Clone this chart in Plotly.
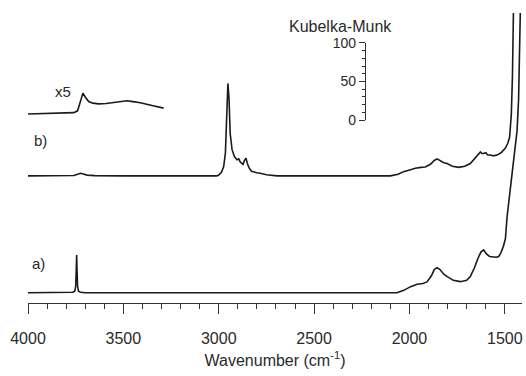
import plotly.graph_objects as go

# ---- data (wavenumber cm-1, Kubelka-Munk units) ----
a_wn = [4000, 3900, 3800, 3765, 3755, 3750, 3747, 3745, 3743, 3740, 3735, 3725, 3700, 3500, 3000, 2500, 2100,
        2065, 2030, 1994, 1960, 1930, 1908, 1885, 1870, 1855, 1840, 1820, 1802, 1770, 1733, 1700, 1681,
        1660, 1640, 1625, 1611, 1595, 1580, 1567, 1545, 1532, 1520, 1508, 1497, 1488, 1478, 1470, 1458,
        1446, 1436, 1428, 1422, 1416]
a_km = [0, 0, 0, 0.5, 2, 8, 30, 49, 30, 8, 2, 0.5, 0, 0, 0, 0, 0,
        0, 3, 7.8, 11, 12, 14, 22, 30, 32.5, 30, 24, 20.8, 16, 14.3, 16, 20.8,
        32, 45, 53, 55.5, 50, 47, 46.8, 46, 47, 52, 60, 70, 99, 120, 138, 160,
        185, 210, 250, 300, 400]

b_offset = 151.6
b_wn = [4000, 3800, 3760, 3740, 3725, 3710, 3690, 3650, 3500, 3010, 3000, 2985, 2974, 2965, 2958, 2952,
        2946, 2940, 2930, 2918, 2904, 2895, 2887, 2880, 2873, 2865, 2857, 2850, 2840, 2828, 2817, 2800,
        2782, 2750, 2694, 2400, 2100, 2060, 2030, 1995, 1969, 1940, 1917, 1890, 1870, 1855, 1840, 1820,
        1803, 1775, 1742, 1710, 1681, 1655, 1640, 1628, 1620, 1611, 1600, 1590, 1576, 1560, 1541, 1520,
        1497, 1485, 1475, 1466, 1460, 1456, 1452]
b_km = [0, 0, 0.5, 2, 3.3, 2.5, 1, 0.3, 0, 0, 1, 5, 12, 30, 80, 120,
        100, 55, 34, 25, 21, 22, 18, 17, 15, 20, 23, 16, 10, 6, 5, 4,
        3.5, 1.5, 0, 0, 0, 2, 5.5, 8, 10, 11, 11.6, 15, 20, 22, 20, 17,
        16, 12.5, 11, 12.5, 16, 24, 28, 31, 29, 29, 30, 27, 27, 26, 27, 30,
        36, 42, 50, 80, 130, 190, 260]

x5_offset = 232
x5_wn = [4000, 3900, 3800, 3760, 3740, 3725, 3712, 3700, 3682, 3660, 3630, 3590, 3551, 3510, 3481,
         3450, 3411, 3350, 3289]
x5_km = [0, 0.5, 1, 1.7, 4, 15, 27, 22, 16, 14, 13, 13.5, 14.5, 16.5, 17, 16, 14.5, 11, 7.5]

x_ticks = [4000, 3500, 3000, 2500, 2000, 1500]
km_ticks = [0, 50, 100]

FONT = "Arial, Liberation Sans, sans-serif"
LINE = "#1a1a1a"
TXT = "#2a2a2a"

fig = go.Figure()
fig.add_trace(go.Scatter(x=a_wn, y=a_km, mode="lines", line=dict(color=LINE, width=1.6),
                         showlegend=False, hoverinfo="skip"))
fig.add_trace(go.Scatter(x=b_wn, y=[v + b_offset for v in b_km], mode="lines",
                         line=dict(color=LINE, width=1.6), showlegend=False, hoverinfo="skip"))
fig.add_trace(go.Scatter(x=x5_wn, y=[v + x5_offset for v in x5_km], mode="lines",
                         line=dict(color=LINE, width=1.6), showlegend=False, hoverinfo="skip"))
# dummy trace to host the Kubelka-Munk scale axis (its own small subplot)
fig.add_trace(go.Scatter(x=[0], y=[50], xaxis="x2", yaxis="y2", mode="markers",
                         marker=dict(opacity=0), showlegend=False, hoverinfo="skip"))

fig.add_annotation(x=3816, y=261, text="x5", showarrow=False,
                   font=dict(family=FONT, size=15, color=TXT))
fig.add_annotation(x=3937, y=198, text="b)", showarrow=False,
                   font=dict(family=FONT, size=15, color=TXT))
fig.add_annotation(x=3946, y=38, text="a)", showarrow=False,
                   font=dict(family=FONT, size=15, color=TXT))
fig.add_annotation(x=2364, y=345, text="Kubelka-Munk", showarrow=False,
                   font=dict(family=FONT, size=16, color=TXT))

fig.update_layout(
    width=526, height=376,
    margin=dict(l=28, r=4, t=13, b=73),
    paper_bgcolor="white", plot_bgcolor="white",
    font=dict(family=FONT, color=TXT),
    xaxis=dict(
        range=[4000, 1410], showgrid=False, zeroline=False,
        showline=True, linecolor="#333", linewidth=1.3,
        ticks="outside", ticklen=10, tickwidth=1.3, tickcolor="#333",
        tickvals=x_ticks, ticktext=[str(t) for t in x_ticks],
        tickfont=dict(size=16, family=FONT, color=TXT),
        ticklabelstandoff=11,
        minor=dict(dtick=100, tick0=4000, ticks="outside", ticklen=5, tickwidth=1.2, tickcolor="#333"),
        title=dict(text="Wavenumber (cm<sup>-1</sup>)", font=dict(size=16, family=FONT, color=TXT),
                   standoff=8),
    ),
    yaxis=dict(range=[-13.4, 363], visible=False, showgrid=False, zeroline=False),
    xaxis2=dict(domain=[0.684, 0.69], range=[0, 1], visible=False, anchor="y2"),
    yaxis2=dict(
        anchor="x2", side="left",
        domain=[0.631, 0.8966], range=[0, 100],
        showgrid=False, zeroline=False, showline=True, linecolor="#333", linewidth=1.2,
        ticks="outside", ticklen=6, tickwidth=1.2, tickcolor="#333",
        tickvals=km_ticks, ticktext=[str(t) for t in km_ticks],
        tickfont=dict(size=14, family=FONT, color=TXT),
        minor=dict(dtick=10, ticks="outside", ticklen=3, tickwidth=1, tickcolor="#333"),
    ),
)

fig.write_html("out.html")
